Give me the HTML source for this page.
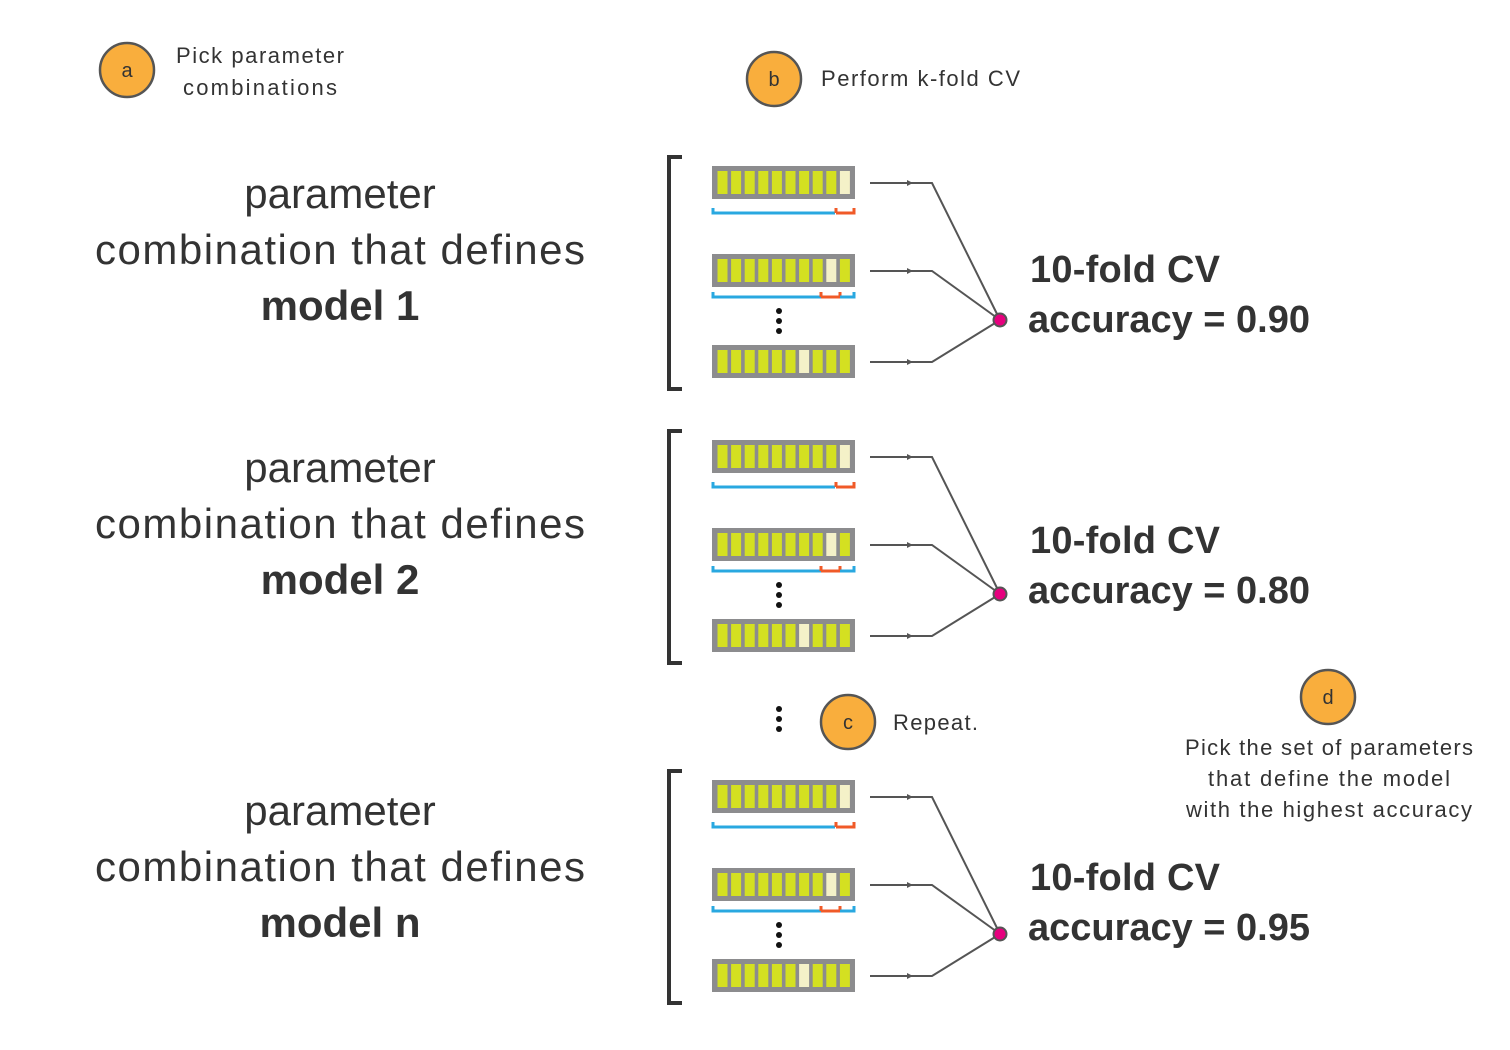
<!DOCTYPE html>
<html><head><meta charset="utf-8"><style>
html,body{margin:0;padding:0;background:#fff;}
svg{display:block;}
text{font-family:"Liberation Sans",sans-serif;fill:#333;}
</style></head><body>
<svg id="s" width="1510" height="1050" viewBox="0 0 1510 1050" xmlns="http://www.w3.org/2000/svg">
<g id="shapes"></g>
<circle cx="127" cy="70" r="27" fill="#f9ae3d" stroke="#555" stroke-width="2.5"/>
<text x="127" y="77" font-size="20" text-anchor="middle">a</text>
<text x="176" y="63" font-size="22" textLength="168">Pick parameter</text>
<text x="183" y="95" font-size="22" textLength="154">combinations</text>
<circle cx="774" cy="79" r="27" fill="#f9ae3d" stroke="#555" stroke-width="2.5"/>
<text x="774" y="86" font-size="20" text-anchor="middle">b</text>
<text x="821" y="86" font-size="22" textLength="199">Perform k-fold CV</text>
<circle cx="848" cy="722" r="27" fill="#f9ae3d" stroke="#555" stroke-width="2.5"/>
<text x="848" y="729" font-size="20" text-anchor="middle">c</text>
<text x="893" y="730" font-size="22" textLength="85">Repeat.</text>
<circle cx="1328" cy="697" r="27" fill="#f9ae3d" stroke="#555" stroke-width="2.5"/>
<text x="1328" y="704" font-size="20" text-anchor="middle">d</text>
<text x="1185" y="755" font-size="22" textLength="288">Pick the set of parameters</text>
<text x="1208" y="786" font-size="22" textLength="242">that define the model</text>
<text x="1186" y="817" font-size="22" textLength="286">with the highest accuracy</text>
<circle cx="779" cy="709" r="3" fill="#111"/><circle cx="779" cy="719" r="3" fill="#111"/><circle cx="779" cy="729" r="3" fill="#111"/>

<g font-size="42" text-anchor="middle">
<text x="340" y="208">parameter</text>
<text x="340" y="264" textLength="490">combination that defines</text>
<text x="340" y="320" font-weight="bold">model 1</text>
<text x="340" y="482">parameter</text>
<text x="340" y="538" textLength="490">combination that defines</text>
<text x="340" y="594" font-weight="bold">model 2</text>
<text x="340" y="825">parameter</text>
<text x="340" y="881" textLength="490">combination that defines</text>
<text x="340" y="937" font-weight="bold">model n</text>
</g>
<g font-size="38" font-weight="bold">
<text x="1030" y="282" textLength="190">10-fold CV</text>
<text x="1028" y="332" textLength="282">accuracy = 0.90</text>
<text x="1030" y="553" textLength="190">10-fold CV</text>
<text x="1028" y="603" textLength="282">accuracy = 0.80</text>
<text x="1030" y="890" textLength="190">10-fold CV</text>
<text x="1028" y="940" textLength="282">accuracy = 0.95</text>
</g>
</svg>
<script>
var g=document.getElementById('shapes'),h='';
[0,274,614].forEach(function(o){
 h+='<path d="M682,'+(157+o)+' H669 V'+(389+o)+' H682" fill="none" stroke="#333" stroke-width="4"/>';
 var bars=[[166,9],[254,8],[345,6]];
 bars.forEach(function(b,i){
  var y=b[0]+o;
  h+='<rect x="712" y="'+y+'" width="143" height="33" fill="#8c8c8e"/>';
  for(var k=0;k<10;k++){h+='<rect x="'+(717.5+k*13.6)+'" y="'+(y+5)+'" width="10" height="23" fill="'+(k==b[1]?'#f4f1c8':'#d4e021')+'"/>';}
  var ly=[183,271,362][i]+o;
  h+='<path d="M870,'+ly+' H932 L1000,'+(320+o)+'" fill="none" stroke="#555" stroke-width="2"/>';
  h+='<path d="M907,'+(ly-3)+' L913,'+ly+' L907,'+(ly+3)+'z" fill="#555"/>';
 });
 var y1=213+o;
 h+='<path d="M713,'+(y1-5)+' V'+y1+' H835" fill="none" stroke="#29a8e0" stroke-width="3"/>';
 h+='<path d="M836,'+y1+' H854 V'+(y1-5)+' M836,'+y1+' V'+(y1-5)+'" fill="none" stroke="#f05a28" stroke-width="3"/>';
 var y2=297+o;
 h+='<path d="M713,'+(y2-5)+' V'+y2+' H821" fill="none" stroke="#29a8e0" stroke-width="3"/>';
 h+='<path d="M821,'+y2+' H840 M821,'+(y2-5)+' V'+y2+' M840,'+(y2-5)+' V'+y2+'" fill="none" stroke="#f05a28" stroke-width="3"/>';
 h+='<path d="M840,'+y2+' H854 V'+(y2-5)+'" fill="none" stroke="#29a8e0" stroke-width="3"/>';
 [311,321,331].forEach(function(d){h+='<circle cx="779" cy="'+(d+o)+'" r="3" fill="#111"/>';});
 h+='<circle cx="1000" cy="'+(320+o)+'" r="6.5" fill="#e6007e" stroke="#555" stroke-width="2"/>';
});
g.innerHTML=h;
</script>
</body></html>
